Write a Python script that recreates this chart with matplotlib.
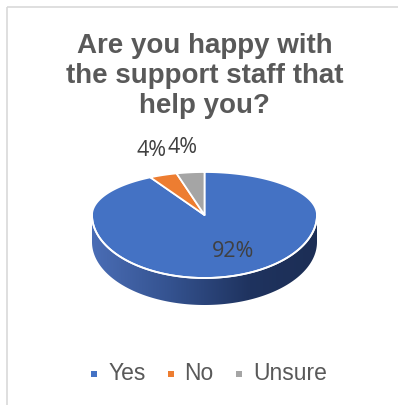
import numpy as np
import matplotlib
matplotlib.use("Agg")
import matplotlib.pyplot as plt
from matplotlib.patches import Polygon, Rectangle
from matplotlib.colors import LinearSegmentedColormap

# survey answers
categories = ["Yes", "No", "Unsure"]
shares = [92, 4, 4]
colors = ["#4472C4", "#ED7D31", "#A5A5A5"]
title = "Are you happy with\nthe support staff that\nhelp you?"

W, H = 398, 405
fig = plt.figure(figsize=(W / 100, H / 100), dpi=100)
ax = fig.add_axes([0, 0, 1, 1])
ax.set_xlim(0, W)
ax.set_ylim(H, 0)
ax.axis("off")

# chart frame
ax.add_patch(Rectangle((7, 7), 420, 420, fill=False, ec="#d9d9d9", lw=1.2))

# pie geometry (pixels), perspective: back half flatter than front half
cx, cy = 204.5, 215
a, b_back, b_front = 112.5, 43, 63
depth = 27


def rim(phi, dy=0.0):
    # phi clockwise from 12 o'clock, in degrees
    t = np.radians(phi)
    c = np.cos(t)
    b = np.where(c > 0, b_back, b_front)
    return cx + a * np.sin(t), cy - b * c + dy


# side wall (front half only)
phi = np.linspace(90, 270, 200)
xt, yt = rim(phi)
xb, yb = rim(phi[::-1], depth)
side = Polygon(np.column_stack([np.r_[xt, xb], np.r_[yt, yb]]),
               closed=True, fc="none", ec="none")
ax.add_patch(side)
shade = LinearSegmentedColormap.from_list(
    "side", [(0, "#4a6db5"), (0.35, "#34528f"), (0.7, "#1f335f"), (1, "#1c2e55")])
grad = np.linspace(0, 1, 256).reshape(1, -1)
im = ax.imshow(grad, cmap=shade, aspect="auto",
               extent=[cx - a, cx + a, cy + b_front + depth + 2, cy - 2], zorder=2)
im.set_clip_path(side)

# top face slices
total = sum(shares)
start = 0.0
mids = []
for val, col in zip(shares, colors):
    span = 360.0 * val / total
    ang = np.linspace(start, start + span, max(int(span * 2), 4))
    xs, ys = rim(ang)
    pts = np.column_stack([np.r_[cx, xs], np.r_[cy, ys]])
    ax.add_patch(Polygon(pts, closed=True, fc=col, ec="white", lw=1.3,
                         joinstyle="round", zorder=3))
    mids.append(start + span / 2)
    start += span

# white rim along the front edge
xr, yr = rim(np.linspace(88, 272, 200))
ax.plot(xr, yr, color="white", lw=1.3, zorder=4)

# data labels: big slice inside, small slices above the back edge
lab_font = dict(family="Open Sans", fontsize=15.5, color="#404040")
small = 0
for val, m in zip(shares, mids):
    txt = f"{val}%"
    x, y = rim(m)
    if val / total > 0.2:
        x = cx + 0.6 * (x - cx) + 12
        y = cy + 0.6 * (y - cy)
    else:
        x, y = x - 12 + 4 * small, y - 25
        small += 1
    ax.text(x, y, txt, ha="center", va="center", zorder=5, **lab_font)

# title
ax.text(204.5, 33, title, ha="center", va="top", fontsize=20, fontweight="bold",
        family="Liberation Sans", color="#595959", linespacing=1.2)

# legend, laid out by hand in one centred row
leg_font = dict(family="Liberation Sans", fontsize=16.5, color="#595959")
fig.canvas.draw()
renderer = fig.canvas.get_renderer()
texts = [ax.text(0, 373, c, ha="left", va="center", **leg_font) for c in categories]
widths = [t.get_window_extent(renderer).width for t in texts]
sq, gap_in, gap_out = 6, 11, 22
row = sum(sq + gap_in + w for w in widths) + gap_out * (len(widths) - 1)
x0 = 209 - row / 2
for t, w, col in zip(texts, widths, colors):
    ax.add_patch(Rectangle((x0, 373 - sq / 2 + 1), sq, sq, fc=col, ec="none"))
    t.set_x(x0 + sq + gap_in)
    x0 += sq + gap_in + w + gap_out

fig.savefig("out.png", dpi=100, facecolor="white")
